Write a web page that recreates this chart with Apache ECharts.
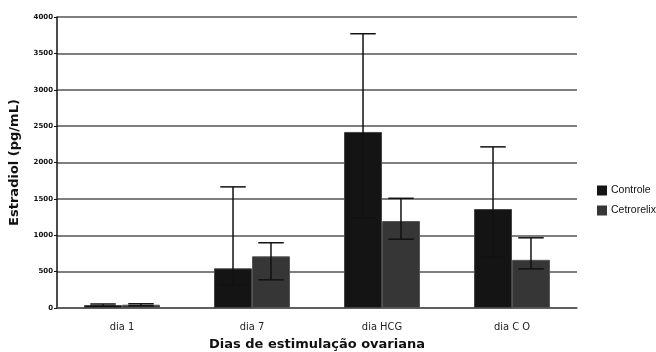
<!DOCTYPE html>
<html><head><meta charset="utf-8">
<script src="https://cdn.jsdelivr.net/npm/echarts@6/dist/echarts.min.js"></script>
<style>html,body{margin:0;padding:0;background:#fff}#c{width:656px;height:352px}</style>
</head><body><div id="c"></div>
<script>
var categories = ['dia 1', 'dia 7', 'dia HCG', 'dia C O'];
var seriesNames = ['Controle', 'Cetrorelix'];
var controleMean = [40, 545, 2420, 1360];
var controleLow = [25, 315, 1240, 695];
var controleHigh = [55, 1665, 3770, 2215];
var cetroMean = [45, 710, 1195, 662];
var cetroLow = [30, 387, 946, 538];
var cetroHigh = [58, 897, 1508, 965];
var yTicks = [0, 500, 1000, 1500, 2000, 2500, 3000, 3500, 4000];

var chart = echarts.init(document.getElementById('c'));
var BW = 0.292;
function errSeries(low, high, side) {
  var data = categories.map(function (c, i) { return [i, low[i], high[i]]; });
  return {
    type: 'custom', silent: true, z: 5,
    renderItem: function (params, api) {
      var i = api.value(0);
      var band = api.size([1, 0])[0];
      var cx = api.coord([i, 0])[0] + side * band * BW / 2;
      var lo = api.coord([i, api.value(1)])[1];
      var hi = api.coord([i, api.value(2)])[1];
      var hw = band * 0.098;
      var st = { stroke: '#111', lineWidth: 1.5 };
      return { type: 'group', children: [
        { type: 'line', shape: { x1: cx, y1: lo, x2: cx, y2: hi }, style: st },
        { type: 'line', shape: { x1: cx - hw, y1: hi, x2: cx + hw, y2: hi }, style: st },
        { type: 'line', shape: { x1: cx - hw, y1: lo, x2: cx + hw, y2: lo }, style: st }
      ]};
    },
    data: data
  };
}
chart.setOption({
  animation: false,
  grid: { left: 57, right: 79, top: 17, bottom: 44, containLabel: false, outerBoundsMode: 'none' },
  legend: {
    orient: 'vertical', left: 592, top: 180, itemWidth: 10, itemHeight: 10, itemGap: 9,
    icon: 'rect',
    data: seriesNames,
    textStyle: { fontFamily: 'Liberation Sans, Arial, sans-serif', fontSize: 10.5, color: '#111', padding: [0, 0, 0, -1] },
    itemStyle: { borderWidth: 0 }
  },
  xAxis: {
    type: 'category', data: categories,
    name: 'Dias de estimulação ovariana', nameLocation: 'middle', nameGap: 28,
    nameTextStyle: { fontFamily: 'DejaVu Sans', fontWeight: 'bold', fontSize: 13, color: '#111' },
    axisLine: { lineStyle: { color: '#555', width: 1.5 } },
    axisTick: { alignWithLabel: true, length: 5, lineStyle: { color: '#333' } },
    axisLabel: { fontFamily: 'DejaVu Sans Condensed, sans-serif', fontSize: 11, color: '#222', margin: 14 }
  },
  yAxis: {
    type: 'value', min: 0, max: 4000, interval: 500,
    name: 'Estradiol (pg/mL)', nameLocation: 'middle', nameGap: 36, nameRotate: 90,
    nameTextStyle: { fontFamily: 'DejaVu Sans', fontWeight: 'bold', fontSize: 13, color: '#111' },
    axisLine: { show: true, lineStyle: { color: '#111', width: 1.5 } },
    axisTick: { show: true, length: 3, lineStyle: { color: '#111' } },
    axisLabel: { fontFamily: 'DejaVu Sans', fontWeight: 'bold', fontSize: 7, color: '#111', margin: 4,
      formatter: function (v) { return yTicks.indexOf(v) >= 0 ? String(v) : ''; } },
    splitLine: { lineStyle: { color: '#555', width: 1.5 } }
  },
  series: [
    { name: seriesNames[0], type: 'bar', data: controleMean, barWidth: '29.2%', barGap: '0%',
      itemStyle: { color: '#141414', borderColor: '#444', borderWidth: 1 } },
    { name: seriesNames[1], type: 'bar', data: cetroMean, barWidth: '29.2%', barGap: '0%',
      itemStyle: { color: '#363636', borderColor: '#555', borderWidth: 1 } },
    errSeries(controleLow, controleHigh, -1),
    errSeries(cetroLow, cetroHigh, 1)
  ]
});
</script></body></html>
